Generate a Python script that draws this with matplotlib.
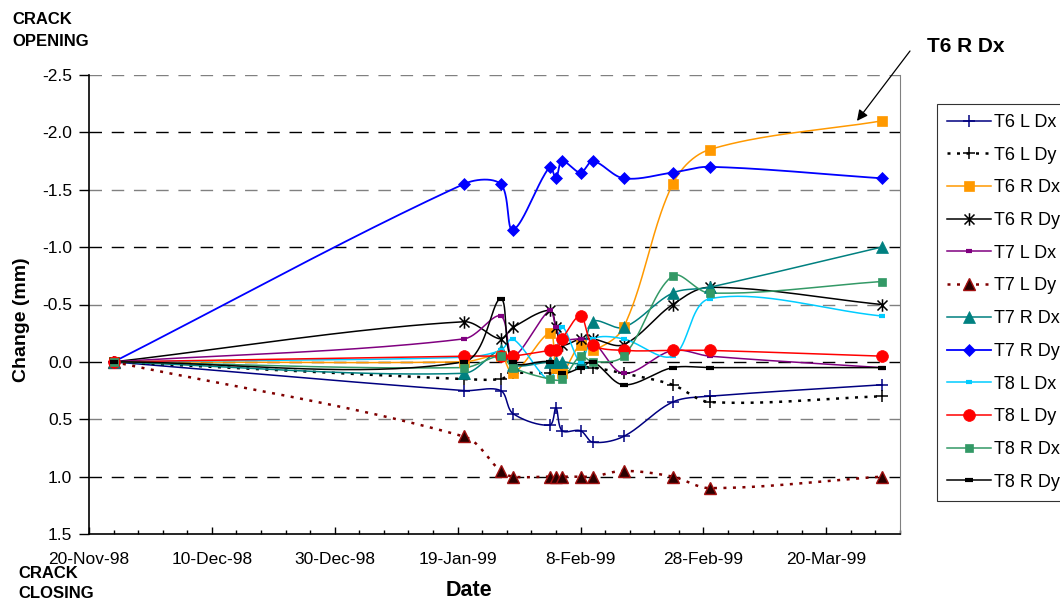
import datetime as dt

import matplotlib
matplotlib.use("Agg")
import matplotlib.pyplot as plt
import matplotlib.dates as mdates
import numpy as np
from matplotlib.lines import Line2D
from matplotlib.path import Path
from matplotlib.ticker import FixedLocator, FuncFormatter

plt.rcParams["font.family"] = ["Liberation Sans", "DejaVu Sans"]

# ---------------------------------------------------------------- data
# survey dates (negative change = crack opening)
dates = ["1998-11-24", "1999-01-20", "1999-01-26", "1999-01-28", "1999-02-03",
         "1999-02-04", "1999-02-05", "1999-02-08", "1999-02-10", "1999-02-15",
         "1999-02-23", "1999-03-01", "1999-03-29"]

nan = np.nan
t6_l_dx = [0, 0.25, 0.25, 0.45, 0.55, 0.40, 0.60, 0.60, 0.70, 0.65, 0.35, 0.30, 0.20]
t6_l_dy = [0, 0.15, 0.15, 0.10, 0.10, nan, 0.10, 0.05, 0.05, 0.10, 0.20, 0.35, 0.30]
t6_r_dx = [0, 0.00, -0.05, 0.10, -0.25, 0.05, 0.10, -0.15, -0.10, -0.30, -1.55, -1.85, -2.10]
t6_r_dy = [0, -0.35, -0.20, -0.30, -0.45, -0.30, -0.15, -0.20, -0.20, -0.15, -0.50, -0.65, -0.50]
t7_l_dx = [0, -0.20, -0.40, -0.05, -0.45, -0.30, -0.20, -0.20, -0.18, 0.10, -0.10, -0.05, 0.05]
t7_l_dy = [0, 0.65, 0.95, 1.00, 1.00, 1.00, 1.00, 1.00, 1.00, 0.95, 1.00, 1.10, 1.00]
t7_r_dx = [0, 0.10, -0.10, 0.03, 0.00, 0.00, 0.00, 0.00, -0.35, -0.30, -0.60, -0.65, -1.00]
t7_r_dy = [0, -1.55, -1.55, -1.15, -1.70, -1.60, -1.75, -1.65, -1.75, -1.60, -1.65, -1.70, -1.60]
t8_l_dx = [0, -0.04, -0.10, -0.20, 0.15, nan, -0.30, 0.00, -0.20, -0.20, -0.05, -0.55, -0.40]
t8_l_dy = [0, -0.05, -0.05, -0.05, -0.10, -0.10, -0.20, -0.40, -0.15, -0.10, -0.10, -0.10, -0.05]
t8_r_dx = [0, 0.05, -0.05, 0.05, 0.15, nan, 0.15, -0.05, 0.00, -0.05, -0.75, -0.60, -0.70]
t8_r_dy = [0, 0.00, -0.55, 0.00, 0.00, nan, 0.10, 0.05, 0.00, 0.20, 0.05, 0.05, 0.05]

series_names = ["T6 L Dx", "T6 L Dy", "T6 R Dx", "T6 R Dy", "T7 L Dx", "T7 L Dy",
                "T7 R Dx", "T7 R Dy", "T8 L Dx", "T8 L Dy", "T8 R Dx", "T8 R Dy"]
series_values = [t6_l_dx, t6_l_dy, t6_r_dx, t6_r_dy, t7_l_dx, t7_l_dy,
                 t7_r_dx, t7_r_dy, t8_l_dx, t8_l_dy, t8_r_dx, t8_r_dy]

axis_start = dt.date(1998, 11, 20)
axis_end = dt.date(1999, 4, 1)
y_ticks = [-2.5, -2.0, -1.5, -1.0, -0.5, 0.0, 0.5, 1.0, 1.5]

# ---------------------------------------------------------------- styles
asterisk = Path([(0, -1), (0, 1), (-0.8, -0.8), (0.8, 0.8), (-0.8, 0.8), (0.8, -0.8)],
                [Path.MOVETO, Path.LINETO] * 3)
dotted = (0, (1.2, 2.6))

styles = [
    dict(color="#000080", ls="-", lw=1.1, marker="+", ms=9, mew=1.1, mfc="#000080", mec="#000080"),
    dict(color="black", ls=dotted, lw=1.8, marker="+", ms=9, mew=1.1, mfc="black", mec="black"),
    dict(color="#FF9900", ls="-", lw=1.1, marker="s", ms=7.5, mew=0.5, mfc="#FF9900", mec="#FF9900"),
    dict(color="black", ls="-", lw=1.1, marker=asterisk, ms=9, mew=1.1, mfc="black", mec="black"),
    dict(color="#800080", ls="-", lw=1.1, marker="_", ms=5, mew=3, mfc="#800080", mec="#800080"),
    dict(color="#800000", ls=dotted, lw=1.8, marker="^", ms=8, mew=1.0, mfc="#2a0000", mec="#A01010"),
    dict(color="#008080", ls="-", lw=1.1, marker="^", ms=8, mew=0.5, mfc="#008080", mec="#008080"),
    dict(color="#0000FF", ls="-", lw=1.3, marker="D", ms=6.5, mew=0.5, mfc="#0000FF", mec="#0000FF"),
    dict(color="#00CCFF", ls="-", lw=1.1, marker="_", ms=5, mew=3, mfc="#00CCFF", mec="#00CCFF"),
    dict(color="#FF0000", ls="-", lw=1.1, marker="o", ms=8.5, mew=0.5, mfc="#FF0000", mec="#FF0000"),
    dict(color="#339966", ls="-", lw=1.1, marker="s", ms=5.5, mew=0.5, mfc="#339966", mec="#339966"),
    dict(color="black", ls="-", lw=1.1, marker="_", ms=6, mew=3, mfc="black", mec="black"),
]

# screen scale of the plot (pixels per day, pixels per mm) used for smoothing
PX_DAY, PX_MM = 6.14, 114.75


def smooth(x, y, n=40):
    """Bezier curve through every point, tangents weighted by chord length."""
    p = np.column_stack([np.asarray(x) * PX_DAY, np.asarray(y) * PX_MM])
    if len(p) < 3:
        return x, y
    d = np.hypot(*np.diff(p, axis=0).T)
    t = np.linspace(0, 1, n)[:, None]
    out = []
    for i in range(len(p) - 1):
        p1, p2 = p[i], p[i + 1]
        p0 = p[i - 1] if i > 0 else p1
        p3 = p[i + 2] if i + 2 < len(p) else p2
        d0 = d[i - 1] if i > 0 else 0.0
        d1 = d[i]
        d2 = d[i + 1] if i + 1 < len(d) else 0.0
        c1 = p1 + (p2 - p0) * d1 / (d0 + d1) / 3.0
        c2 = p2 - (p3 - p1) * d1 / (d1 + d2) / 3.0
        seg = ((1 - t) ** 3) * p1 + 3 * ((1 - t) ** 2) * t * c1 + 3 * (1 - t) * t ** 2 * c2 + t ** 3 * p2
        out.append(seg if i == 0 else seg[1:])
    out = np.vstack(out)
    return out[:, 0] / PX_DAY, out[:, 1] / PX_MM


# ---------------------------------------------------------------- figure
W, H = 1060, 602
fig = plt.figure(figsize=(W / 100, H / 100), dpi=100)
ax = fig.add_axes([89 / W, (H - 534) / H, (900 - 89) / W, (534 - 75) / H])

x_all = mdates.date2num([dt.date.fromisoformat(d) for d in dates])

handles = []
for name, vals, st in zip(series_names, series_values, styles):
    v = np.asarray(vals, dtype=float)
    ok = ~np.isnan(v)
    xs, ys = smooth(x_all[ok], v[ok])
    ax.plot(xs, ys, color=st["color"], ls=st["ls"], lw=st["lw"], zorder=3,
            solid_capstyle="butt", dash_capstyle="butt")
    ax.plot(x_all[ok], v[ok], ls="none", marker=st["marker"], ms=st["ms"], mew=st["mew"],
            mfc=st["mfc"], mec=st["mec"], zorder=4)
    handles.append(Line2D([], [], color=st["color"], ls=st["ls"], lw=st["lw"],
                          marker=st["marker"], ms=st["ms"], mew=st["mew"],
                          mfc=st["mfc"], mec=st["mec"], label=name))

# axes limits and ticks
x0 = mdates.date2num(axis_start)
x1 = mdates.date2num(axis_end)
ax.set_xlim(x0, x1)
ax.set_ylim(1.5, -2.5)

ax.xaxis.set_major_locator(FixedLocator(np.arange(x0, x1, 20)))
ax.xaxis.set_minor_locator(FixedLocator(np.arange(x0, x1 + 0.5, 4)))


def date_label(v, pos):
    d = mdates.num2date(v)
    return f"{d.day}-{d.strftime('%b-%y')}"


ax.xaxis.set_major_formatter(FuncFormatter(date_label))
ax.set_yticks(y_ticks)
ax.yaxis.set_major_formatter(FuncFormatter(lambda v, p: f"{v:.1f}"))

ax.tick_params(axis="x", which="major", direction="in", length=5, width=1, pad=13,
               labelsize=12.5)
ax.tick_params(axis="x", which="minor", direction="in", length=3, width=1)
ax.tick_params(axis="y", which="major", direction="out", length=7, width=1, pad=5,
               labelsize=12.5)

# gridlines: alternating black / grey dashes
for yv in y_ticks[:-1]:
    col = "black" if float(yv).is_integer() else "#808080"
    ax.axhline(yv, color=col, lw=1.0, ls=(0, (9, 7)), zorder=1)

ax.spines["top"].set_visible(False)
ax.spines["right"].set_color("#808080")
ax.spines["left"].set_linewidth(1.2)
ax.spines["bottom"].set_linewidth(1.2)

# legend
leg = fig.legend(handles=handles, loc="upper left", bbox_to_anchor=(937 / W, 1 - 104 / H),
                 bbox_transform=fig.transFigure, fontsize=13, frameon=True, fancybox=False,
                 edgecolor="black", borderaxespad=0, borderpad=0.55, labelspacing=0.87,
                 handlelength=2.45, handletextpad=0.13, numpoints=1)
leg.get_frame().set_linewidth(0.8)

# text labels
fig.text(22 / W, 1 - 320 / H, "Change (mm)", rotation=90, ha="center", va="center",
         fontsize=14, fontweight="bold")
fig.text(469 / W, 1 - 590 / H, "Date", ha="center", va="center", fontsize=15.5,
         fontweight="bold")
fig.text(12 / W, 1 - 19 / H, "CRACK", ha="left", va="center", fontsize=12, fontweight="bold")
fig.text(12 / W, 1 - 42 / H, "OPENING", ha="left", va="center", fontsize=12, fontweight="bold")
fig.text(18 / W, 1 - 573 / H, "CRACK", ha="left", va="center", fontsize=12, fontweight="bold")
fig.text(18 / W, 1 - 593 / H, "CLOSING", ha="left", va="center", fontsize=12, fontweight="bold")

# call-out for the largest movement
fig.text(966 / W, 1 - 47 / H, "T6 R Dx", ha="center", va="center", fontsize=15,
         fontweight="bold")
ax.annotate("", xy=(x0 + 125, -2.1), xycoords="data",
            xytext=(910 / W, 1 - 51 / H), textcoords="figure fraction",
            arrowprops=dict(arrowstyle="-|>", color="black", lw=0.9, mutation_scale=16,
                            shrinkA=0, shrinkB=0), annotation_clip=False)

fig.savefig("out.png", dpi=100)
